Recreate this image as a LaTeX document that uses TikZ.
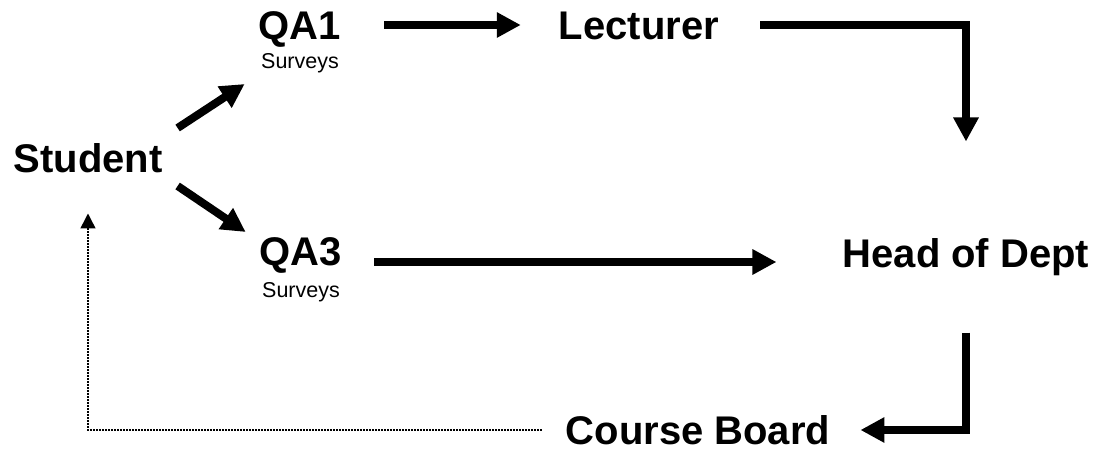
\documentclass[tikz,border=0pt]{standalone}
\usepackage{fontspec}
\setmainfont{Liberation Sans}
\usetikzlibrary{arrows.meta,positioning}
\begin{document}
\begin{tikzpicture}[x=1pt, y=-1pt,
	bigtext/.style={font=\fontsize{40}{48}\selectfont\bfseries, inner sep=0pt, text height=28.6pt, text depth=0pt},
	subtext/.style={font=\fontsize{21.5}{26}\selectfont, inner sep=0pt},
	flow/.style={line width=8pt, -{Triangle[length=24pt, width=24pt]}},
	feedback/.style={line width=1.5pt, dash pattern=on 1.5pt off 1.5pt, -{Triangle[length=15pt, width=15pt]}}]
	\useasboundingbox (0, 0) rectangle (1101, 449);
	\node[bigtext]	(0)	at (88, 158)	{Student};
	\node[bigtext]	(1)	at (300, 25)	{QA1};
	\node[subtext]	(6)	[below=14pt of 1]	{Surveys};
	\node[bigtext]	(2)	at (639, 25)	{Lecturer};
	\node[bigtext]	(3)	at (301, 251)	{QA3};
	\node[subtext]	(7)	[below=17pt of 3]	{Surveys};
	\node[bigtext]	(4)	at (966, 253)	{Head of Dept};
	\node[bigtext]	(5)	at (698, 430)	{Course Board};
	\draw[flow] ([xshift=15pt, yshift=30pt]0.east) -- ([xshift=-14pt, yshift=-59pt]1.west);
	\draw[flow] ([xshift=15pt, yshift=-28pt]0.east) -- ([xshift=-14pt, yshift=19pt]3.west);
	\draw[flow, shorten <=43pt, shorten >=38pt] (1.east) -- (2.west);
	\draw[flow, shorten <=41pt, shorten >=97pt] (2.east) -| (4.north);
	\draw[flow, shorten <=32pt, shorten >=66pt] ([yshift=-11pt]3.east) -- ([yshift=-11pt]3.east -| 4.west);
	\draw[flow, shorten <=65pt, shorten >=30pt] (4.south) |- (5.east);
	\draw[feedback, shorten <=24pt, shorten >=41pt] (5.west) -| (0.south); % back to the student
\end{tikzpicture}
\end{document}
